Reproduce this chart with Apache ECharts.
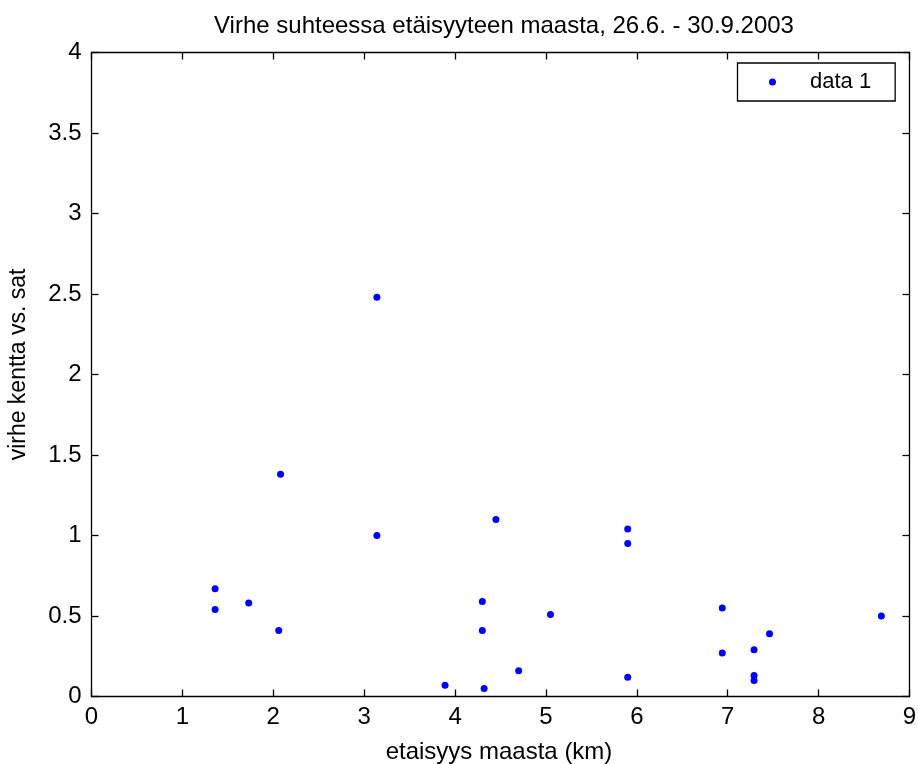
<!DOCTYPE html>
<html>
<head>
<meta charset="utf-8">
<title>Virhe suhteessa etäisyyteen maasta</title>
<script src="https://cdn.jsdelivr.net/npm/echarts@6/dist/echarts.min.js"></script>
<style>
  html, body { margin: 0; padding: 0; background: #fff; }
  #chart { width: 918px; height: 764px; }
</style>
</head>
<body>
<div id="chart"></div>
<script>
// Distance from land (km) and the field-vs-satellite error for each observation
const distanceKm = [1.36, 1.36, 1.73, 2.06, 2.08, 3.14, 3.14, 3.89, 4.30, 4.30, 4.32, 4.45,
                    4.70, 5.05, 5.90, 5.90, 5.90, 6.94, 6.94, 7.29, 7.29, 7.29, 7.46, 8.69];
const errorValue = [0.67, 0.54, 0.58, 0.41, 1.38, 1.00, 2.48, 0.07, 0.59, 0.41, 0.05, 1.10,
                    0.16, 0.51, 1.04, 0.95, 0.12, 0.55, 0.27, 0.29, 0.13, 0.10, 0.39, 0.50];

const seriesName = 'data 1';
const titleText = 'Virhe suhteessa etäisyyteen maasta, 26.6. - 30.9.2003';
const xLabelText = 'etaisyys maasta (km)';
const yLabelText = 'virhe kentta vs. sat';

const xRange = { min: 0, max: 9, interval: 1 };
const yRange = { min: 0, max: 4, interval: 0.5 };

const FONT = '"Liberation Sans", Arial, Helvetica, sans-serif';
const INK = '#000';

const points = distanceKm.map((d, i) => [d, errorValue[i]]);

const frameAxis = (extra) => Object.assign({
  type: 'value',
  axisLine: { show: true, onZero: false, lineStyle: { color: INK, width: 1.3 } },
  axisTick: { show: true, inside: true, length: 7, lineStyle: { color: INK, width: 1.3 } },
  splitLine: { show: false }
}, extra);

const chart = echarts.init(document.getElementById('chart'), null, { renderer: 'canvas' });

chart.setOption({
  animation: false,
  backgroundColor: '#fff',
  textStyle: { fontFamily: FONT, color: INK },
  title: {
    text: titleText,
    left: 499, top: 9, textAlign: 'center',
    textStyle: { fontFamily: FONT, fontSize: 24, fontWeight: 'normal', color: INK }
  },
  grid: {
    left: 91.5, top: 52.5, width: 818, height: 644,
    containLabel: false, outerBoundsMode: 'none'
  },
  legend: {
    data: [seriesName],
    left: 737.5, top: 63,
    orient: 'vertical',
    icon: 'circle',
    itemWidth: 7, itemHeight: 7,
    padding: [8, 24, 8, 31.5],
    borderColor: INK, borderWidth: 1.3,
    backgroundColor: '#fff',
    textStyle: { fontFamily: FONT, fontSize: 22, color: INK, padding: [0, 0, 0, 29] }
  },
  xAxis: [
    frameAxis(Object.assign({}, xRange, {
      position: 'bottom',
      name: xLabelText, nameLocation: 'middle', nameGap: 44,
      nameTextStyle: { fontFamily: FONT, fontSize: 24, color: INK, padding: [0, 3, 0, 0] },
      axisLabel: { show: true, margin: 9, fontFamily: FONT, fontSize: 24, color: INK }
    })),
    frameAxis(Object.assign({}, xRange, {
      position: 'top',
      axisLabel: { show: false }
    }))
  ],
  yAxis: [
    frameAxis(Object.assign({}, yRange, {
      position: 'left',
      name: yLabelText, nameLocation: 'middle', nameGap: 61, nameRotate: 90,
      nameTextStyle: { fontFamily: FONT, fontSize: 23, color: INK, padding: [0, 0, 0, 20] },
      axisLabel: { show: true, margin: 10, fontFamily: FONT, fontSize: 24, color: INK }
    })),
    frameAxis(Object.assign({}, yRange, {
      position: 'right',
      axisLabel: { show: false }
    }))
  ],
  series: [{
    name: seriesName,
    type: 'scatter',
    xAxisIndex: 0, yAxisIndex: 0,
    symbol: 'circle',
    symbolSize: 7,
    itemStyle: { color: '#0000ff', opacity: 1 },
    data: points
  }]
});
</script>
</body>
</html>
